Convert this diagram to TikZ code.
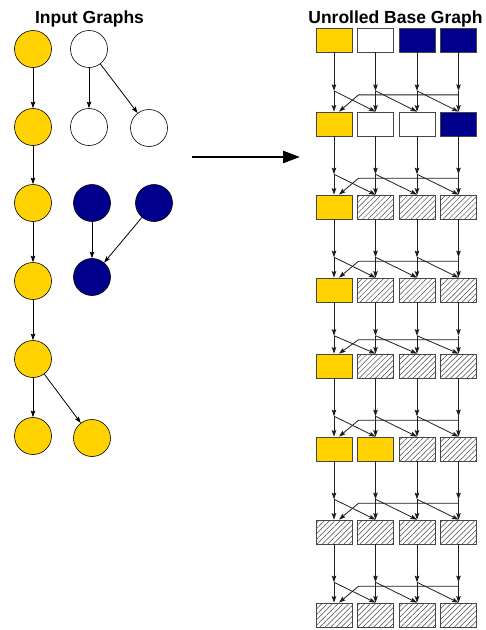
\documentclass[tikz,border=0pt]{standalone}
\usepackage{fontspec}
\setmainfont{Liberation Sans}
\usetikzlibrary{arrows.meta,calc,patterns.meta}
\definecolor{node_gold}{RGB}{255,210,0}
\definecolor{node_navy}{RGB}{0,0,140}
\definecolor{edge_gray}{RGB}{30,30,30}
\definecolor{hatch_gray}{RGB}{70,70,70}

\begin{document}
\begin{tikzpicture}[->,>={Stealth[length=6.5pt,width=4.5pt,inset=1pt]},x=1pt,y=-1pt,line width=0.8pt]
    \tikzstyle{cir}=[draw=black, circle, minimum size=37pt, inner sep=0pt, line width=0.6pt]
    \tikzstyle{gcir}=[style=cir, fill=node_gold]
    \tikzstyle{wcir}=[style=cir, fill=white]
    \tikzstyle{ncir}=[style=cir, fill=node_navy]
    \tikzstyle{box}=[draw=hatch_gray, rectangle, minimum width=36pt, minimum height=24pt, inner sep=0pt, line width=0.7pt]
    \tikzstyle{gbox}=[style=box, fill=node_gold]
    \tikzstyle{wbox}=[style=box, fill=white]
    \tikzstyle{nbox}=[style=box, fill=node_navy]
    \tikzstyle{hbox}=[style=box, pattern={Lines[angle=45,distance=3.8pt,line width=0.5pt]}, pattern color=hatch_gray]
    \tikzstyle{title}=[font=\bfseries\fontsize{17.5}{20}\selectfont, inner sep=0pt]

    \fill[white,-] (0,0) rectangle (486,630);
    \useasboundingbox (0,0) rectangle (486,630);

    \node[title,anchor=base] (tin) at (89.5,23) {Input Graphs};
    \node[title,anchor=base west] (tout) at (308,23) {Unrolled Base Graph};

    % input graphs
    \node[gcir] (y1) at (33,49)  {};
    \node[gcir] (y2) at (33,127) {};
    \node[gcir] (y3) at (33,203) {};
    \node[gcir] (y4) at (33,281) {};
    \node[gcir] (y5) at (33,359) {};
    \node[gcir] (y6) at (33,436) {};
    \node[gcir] (y7) at (92,438) {};
    \node[wcir] (w1) at (89,49)  {};
    \node[wcir] (w2) at (89,127) {};
    \node[wcir] (w3) at (149,128) {};
    \node[ncir] (n1) at (92,203) {};
    \node[ncir] (n2) at (154,203) {};
    \node[ncir] (n3) at (92,277) {};
    \path
     (y1) edge[] (y2)
     (y2) edge[] (y3)
     (y3) edge[] (y4)
     (y4) edge[] (y5)
     (y5) edge[] (y6)
     (y5) edge[] (y7)
     (w1) edge[] (w2)
     (w1) edge[] (w3)
     (n1) edge[] (n3)
     (n2) edge[] (n3)
     ;

    \coordinate (from) at (192,157);
    \coordinate (to) at (300,157);
    \draw[line width=2.5pt,-{Triangle[length=17pt,width=12pt]}] (from) -- (to);

    % unrolled base graph
    \foreach \r/\y/\row in {1/40/{gbox,wbox,nbox,nbox},2/124/{gbox,wbox,wbox,nbox},
      3/207/{gbox,hbox,hbox,hbox},4/290/{gbox,hbox,hbox,hbox},5/366/{gbox,hbox,hbox,hbox},
      6/449/{gbox,gbox,hbox,hbox},7/532/{hbox,hbox,hbox,hbox},8/615/{hbox,hbox,hbox,hbox}}
      \foreach \s [count=\c] in \row
        \node[\s] (b-\r-\c) at (292.5+41.5*\c,\y) {};

    \foreach \r [evaluate=\r as \n using int(\r+1)] in {1,...,7} {
      \foreach \c in {1,...,4} {
        \coordinate (j-\r-\c) at ($(b-\r-\c.south)!0.65!(b-\n-\c.north)$);
        \draw[edge_gray] (b-\r-\c.south) -- (j-\r-\c);
        \draw[edge_gray] (j-\r-\c) -- (b-\n-\c.north);
      }
      \foreach \c [evaluate=\c as \d using int(\c+1)] in {1,2,3}
        \draw[edge_gray] (j-\r-\c) -- (b-\n-\d.north);
      \coordinate (w-\r) at ($(j-\r-4)+(0,4)$);
      \draw[edge_gray] (w-\r) -- ++(-100,0) -- ([xshift=5pt]b-\n-1.north);
    }
\end{tikzpicture}
\end{document}
